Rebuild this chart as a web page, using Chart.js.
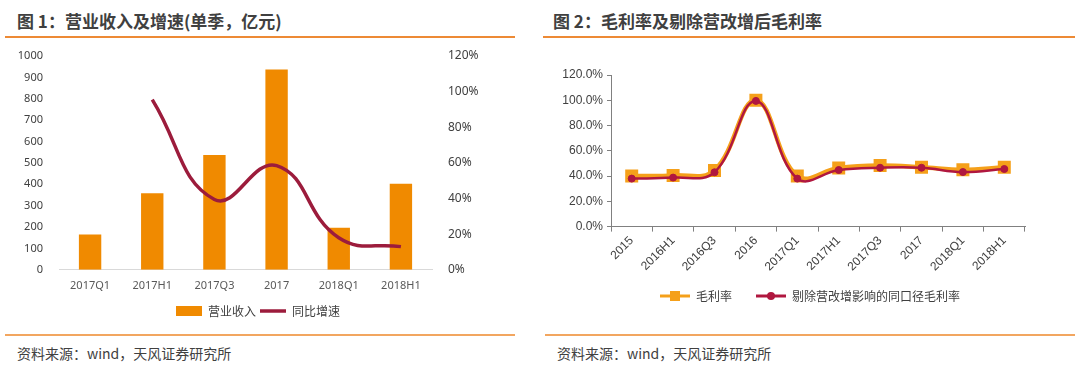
<!DOCTYPE html>
<html>
<head>
<meta charset="utf-8">
<script src="https://cdn.jsdelivr.net/npm/chart.js@4.4.0/dist/chart.umd.min.js"></script>
<style>
  body { margin: 0; background: #fff; font-family: "Noto Sans CJK SC", "Noto Sans", sans-serif; }
  .page { position: relative; width: 1080px; height: 370px; overflow: hidden; }
  .title { position: absolute; top: 8px; font-size: 17px; font-weight: bold; color: #404040; white-space: nowrap; }
  .rule { position: absolute; height: 2px; background: #ED8A35; }
  .rule2 { position: absolute; height: 2px; background: #F2A660; }
  .src { position: absolute; top: 343px; font-size: 14px; color: #404040; white-space: nowrap; }
  .box { position: absolute; }
</style>
</head>
<body>
<div class="page">
  <div class="title" style="left:17px;">图 1：营业收入及增速(单季，亿元)</div>
  <div class="rule" style="left:5px; width:510px; top:36px;"></div>
  <div class="box" style="left:0px; top:37px; width:520px; height:290px;"><canvas id="chart1"></canvas></div>
  <div class="rule2" style="left:5px; width:510px; top:334px;"></div>
  <div class="src" style="left:17px;">资料来源：wind，天风证券研究所</div>

  <div class="title" style="left:553px;">图 2：毛利率及剔除营改增后毛利率</div>
  <div class="rule" style="left:543px; width:532px; top:36px;"></div>
  <div class="box" style="left:545px; top:62px; width:530px; height:250px;"><canvas id="chart2"></canvas></div>
  <div class="rule2" style="left:545px; width:530px; top:334px;"></div>
  <div class="src" style="left:557px;">资料来源：wind，天风证券研究所</div>
</div>
<script>
// 图1 数据
var periods1 = ['2017Q1', '2017H1', '2017Q3', '2017', '2018Q1', '2018H1'];
var revenue = [165, 358, 537, 937, 197, 403];
var growth = [null, 95.5, 39.5, 58.5, 18, 13];

// 图2 数据
var periods2 = ['2015', '2016H1', '2016Q3', '2016', '2017Q1', '2017H1', '2017Q3', '2017', '2018Q1', '2018H1'];
var grossMargin = [40.0, 40.5, 44.5, 100.0, 40.0, 46.4, 48.3, 47.0, 45.0, 47.0];
var adjMargin = [38.0, 38.8, 43.0, 99.5, 38.0, 44.8, 46.6, 46.6, 43.2, 45.6];

var tickFont = { family: '"Noto Sans", "DejaVu Sans", sans-serif', size: 11 };
var arialFont = { family: '"Liberation Sans", Arial, sans-serif', size: 12 };
var legendFont = { family: '"Noto Sans CJK SC", sans-serif', size: 12 };

// 图例整体右移
var legendShift = {
    id: 'legendShift',
    afterLayout: function (chart, args, opts) {
        if (chart.legend) {
            chart.legend.left += opts.dx || 0;
            chart.legend.right += opts.dx || 0;
        }
    }
};

// 小图标：线 + 点，用于图2图例
function makeIcon(color, shape) {
    var c = document.createElement('canvas');
    c.width = 40; c.height = 12;
    var g = c.getContext('2d');
    g.strokeStyle = color; g.lineWidth = 3;
    g.beginPath(); g.moveTo(10, 6); g.lineTo(40, 6); g.stroke();
    g.fillStyle = color;
    if (shape === 'rect') {
        g.fillRect(20, 1, 10, 10);
    } else {
        g.beginPath(); g.arc(25, 6, 4, 0, Math.PI * 2); g.fill();
    }
    return c;
}

var chart1 = new Chart(document.getElementById('chart1').getContext('2d'), {
    type: 'bar',
    plugins: [legendShift],
    data: {
        labels: periods1,
        datasets: [
            {
                label: '营业收入',
                data: revenue,
                backgroundColor: '#F08A00',
                barPercentage: 0.36,
                categoryPercentage: 1,
                yAxisID: 'y',
                pointStyle: 'rect',
                order: 2
            },
            {
                type: 'line',
                label: '同比增速',
                data: growth,
                borderColor: '#9C1C3C',
                backgroundColor: '#9C1C3C',
                borderWidth: 3.5,
                pointRadius: 0,
                tension: 0.45,
                yAxisID: 'y1',
                pointStyle: 'line',
                order: 1
            }
        ]
    },
    options: {
        responsive: true,
        maintainAspectRatio: false,
        animation: false,
        layout: { padding: { left: 10, right: 20, top: 19, bottom: 0 } },
        scales: {
            x: {
                grid: { display: false, drawTicks: false },
                border: { color: '#d9d9d9' },
                ticks: { font: tickFont, color: '#595959', padding: 9, maxRotation: 0 }
            },
            y: {
                min: 0, max: 1000,
                ticks: {
                    stepSize: 100, font: tickFont, color: '#404040', padding: 8,
                    callback: function (v) { return String(v); }
                },
                grid: { display: false },
                border: { display: false },
                afterFit: function (s) { s.width = 49; }
            },
            y1: {
                position: 'right',
                min: 0, max: 120,
                ticks: {
                    stepSize: 20, font: { family: tickFont.family, size: 12 }, color: '#404040', padding: 8,
                    callback: function (v) { return v + '%'; }
                },
                grid: { display: false },
                border: { display: false },
                afterFit: function (s) { s.width = 68; }
            }
        },
        plugins: {
            tooltip: { enabled: false },
            legendShift: { dx: 3 },
            legend: {
                position: 'bottom',
                labels: {
                    usePointStyle: true,
                    pointStyleWidth: 26,
                    boxHeight: 10,
                    font: legendFont,
                    color: '#404040',
                    padding: 4,
                    sort: function (a, b) { return a.datasetIndex - b.datasetIndex; }
                }
            }
        }
    }
});

var chart2 = new Chart(document.getElementById('chart2').getContext('2d'), {
    type: 'line',
    plugins: [legendShift],
    data: {
        labels: periods2,
        datasets: [
            {
                label: '毛利率',
                data: grossMargin,
                borderColor: '#F5A01A',
                backgroundColor: '#F5A01A',
                borderWidth: 4.5,
                pointStyle: 'rect',
                pointRadius: 6,
                tension: 0.4,
                order: 2
            },
            {
                label: '剔除营改增影响的同口径毛利率',
                data: adjMargin,
                borderColor: '#B0173F',
                backgroundColor: '#B0173F',
                borderWidth: 2.5,
                pointStyle: 'circle',
                pointRadius: 3.5,
                pointBorderWidth: 1,
                tension: 0.4,
                order: 1
            }
        ]
    },
    options: {
        responsive: true,
        maintainAspectRatio: false,
        animation: false,
        layout: { padding: { left: 0, right: 50, top: 13, bottom: 0 } },
        scales: {
            x: {
                offset: true,
                grid: { display: true, offset: true, drawOnChartArea: false, tickLength: 5, color: '#808080' },
                border: { color: '#808080' },
                ticks: { font: arialFont, color: '#404040', minRotation: 45, maxRotation: 45, padding: 2 }
            },
            y: {
                min: 0, max: 120,
                ticks: {
                    stepSize: 20, font: arialFont, color: '#404040', padding: 4,
                    callback: function (v) { return v.toFixed(1) + '%'; }
                },
                grid: { display: true, drawOnChartArea: false, tickLength: 4, color: '#808080' },
                border: { color: '#808080' },
                afterFit: function (s) { s.width = 66; }
            }
        },
        plugins: {
            tooltip: { enabled: false },
            legendShift: { dx: 20 },
            legend: {
                position: 'bottom',
                labels: {
                    font: legendFont,
                    color: '#404040',
                    padding: 14,
                    usePointStyle: true,
                    pointStyleWidth: 40,
                    generateLabels: function (chart) {
                        return chart.data.datasets.map(function (ds, i) {
                            return {
                                text: ds.label,
                                pointStyle: makeIcon(ds.borderColor, ds.pointStyle),
                                fillStyle: ds.borderColor,
                                strokeStyle: ds.borderColor,
                                lineWidth: 0,
                                fontColor: '#404040',
                                datasetIndex: i,
                                hidden: false
                            };
                        });
                    }
                }
            }
        }
    }
});
</script>
</body>
</html>
